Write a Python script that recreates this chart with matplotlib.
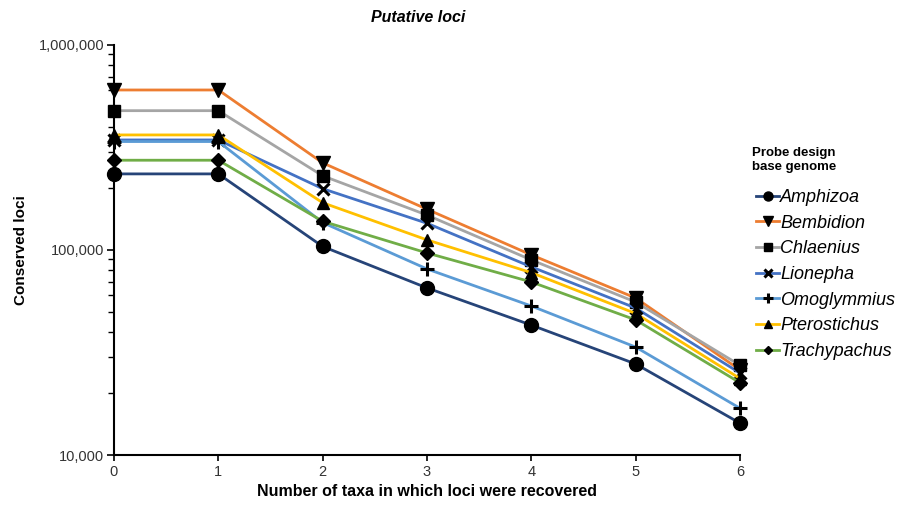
import matplotlib
matplotlib.use("Agg")
import matplotlib.pyplot as plt
from matplotlib.ticker import FuncFormatter, LogLocator, NullFormatter

plt.rcParams["font.family"] = ["Liberation Sans", "DejaVu Sans"]

# ── Data ─────────────────────────────────────────────────────────────────
taxa = [0, 1, 2, 3, 4, 5, 6]

amphizoa     = [235000, 235000, 104000, 65300, 43000, 27800, 14300]
bembidion    = [603000, 603000, 266000, 158000, 94600, 58300, 26000]
chlaenius    = [478000, 478000, 230000, 148000, 89400, 55700, 27400]
lionepha     = [344000, 344000, 199000, 135000, 82700, 52100, 25100]
omoglymmius  = [338000, 338000, 136000, 80800, 53300, 33600, 16900]
pterostichus = [364000, 364000, 170000, 112000, 77500, 49000, 23600]
trachypachus = [274000, 274000, 138000, 96700, 69800, 45600, 22500]

series = [
    ("Amphizoa",     amphizoa,     "#264478", "o", 10),
    ("Bembidion",    bembidion,    "#ED7D31", "v", 10),
    ("Chlaenius",    chlaenius,    "#A5A5A5", "s", 9),
    ("Lionepha",     lionepha,     "#4472C4", "x", 8),
    ("Omoglymmius",  omoglymmius,  "#5B9BD5", "+", 10),
    ("Pterostichus", pterostichus, "#FFC000", "^", 9),
    ("Trachypachus", trachypachus, "#70AD47", "D", 7),
]

# ── Plot ─────────────────────────────────────────────────────────────────
fig = plt.figure(figsize=(9.09, 5.05), dpi=100)
ax = fig.add_axes([0.1254, 0.099, 0.6887, 0.812])

for name, vals, col, mk, ms in series:
    ax.plot(taxa, vals, color=col, lw=2.0, marker=mk, ms=ms,
            mfc="black", mec="black", mew=2.2 if mk in "x+" else 1.0,
            label=name, clip_on=False, zorder=3)

ax.set_yscale("log")
ax.set_ylim(10000, 1000000)
ax.set_xlim(0, 6)
ax.set_xticks(taxa)
ax.yaxis.set_major_formatter(FuncFormatter(lambda v, p: f"{v:,.0f}"))
ax.yaxis.set_minor_locator(LogLocator(base=10, subs=range(2, 10)))
ax.yaxis.set_minor_formatter(NullFormatter())

for side in ("top", "right"):
    ax.spines[side].set_visible(False)
for side in ("left", "bottom"):
    ax.spines[side].set_linewidth(1.5)
    ax.spines[side].set_color("black")

ax.tick_params(axis="y", which="major", length=5, width=1.2, labelsize=10.5,
               direction="out", pad=2, labelcolor="#333333")
ax.tick_params(axis="y", which="minor", length=4, width=1.0, direction="out")
ax.tick_params(axis="x", length=4, width=1.2, labelsize=10.5, pad=3,
               labelcolor="#333333")

ax.set_xlabel("Number of taxa in which loci were recovered",
              fontsize=11.5, fontweight="bold", labelpad=4)
ax.set_ylabel("Conserved loci", fontsize=11, fontweight="bold")
ax.yaxis.set_label_coords(-0.138, 0.5)
fig.text(0.46, 0.966, "Putative loci", ha="center", va="center",
         fontsize=11.5, fontweight="bold", fontstyle="italic")

# legend title kept as separate text so the gap matches the reference
fig.text(0.827, 0.683, "Probe design\nbase genome", ha="left", va="center",
         fontsize=9.5, fontweight="bold", linespacing=1.25)
leg = ax.legend(loc="upper left", bbox_to_anchor=(0.832, 0.626),
                bbox_transform=fig.transFigure, frameon=False,
                handlelength=1.25, handletextpad=0.08, labelspacing=0.48,
                borderaxespad=0, borderpad=0, markerscale=0.65,
                prop={"style": "italic", "size": 13})

fig.savefig("out.png", dpi=100)
